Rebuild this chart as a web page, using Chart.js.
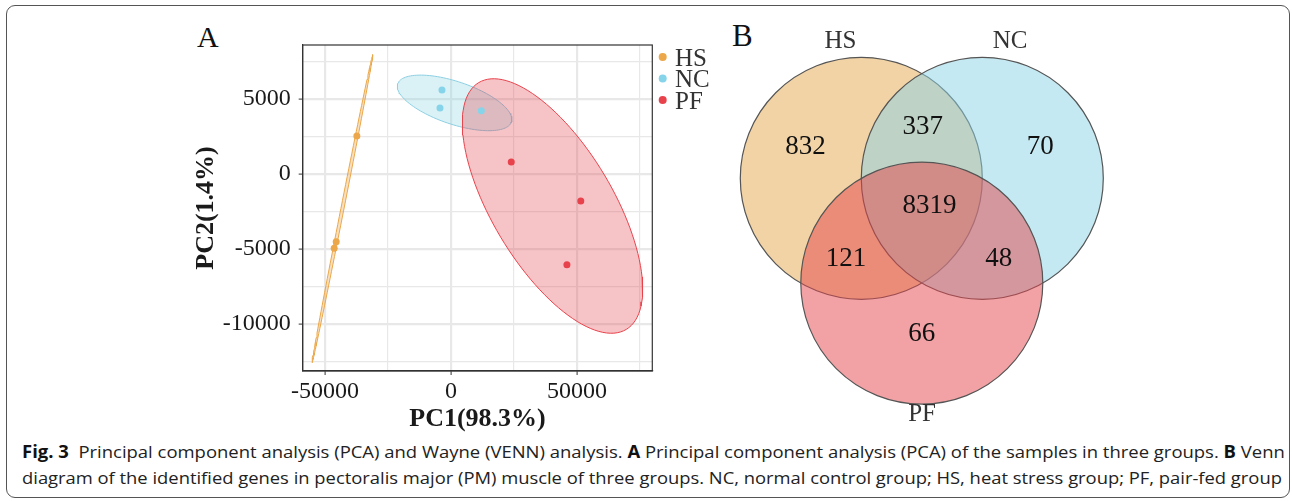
<!DOCTYPE html>
<html>
<head>
<meta charset="utf-8">
<script src="https://cdn.jsdelivr.net/npm/chart.js@4.4.1/dist/chart.umd.min.js"></script>
<style>
  html, body { margin: 0; padding: 0; background: #fff; }
  body { width: 1292px; height: 501px; position: relative; overflow: hidden; }
  .frame { position: absolute; left: 6px; top: 5px; width: 1284px; height: 493px;
           border: 1.3px solid #555; border-radius: 9px; box-sizing: border-box; }
  #pca { position: absolute; left: 190px; top: 20px; }
  #venn { position: absolute; left: 700px; top: 0px; }
  .panel-tag { position: absolute; font-family: 'Liberation Serif', serif; color: #111; line-height: 1; }
  .cap { position: absolute; left: 22px; white-space: nowrap; font-family: 'Open Sans', sans-serif;
         font-size: 17px; color: #222; transform-origin: 0 50%; line-height: 1; }
  .cap b { font-weight: 700; color: #111; }
</style>
</head>
<body>
<div class="frame"></div>
<div class="panel-tag" style="left:197px; top:22px; font-size:30px;">A</div>
<div class="panel-tag" style="left:732px; top:20px; font-size:31px;">B</div>
<canvas id="pca"></canvas>
<canvas id="venn"></canvas>
<div class="cap" id="cap1" style="top:443px;"><b>Fig. 3</b>&nbsp; Principal component analysis (PCA) and Wayne (VENN) analysis. <b>A</b> Principal component analysis (PCA) of the samples in three groups. <b>B</b> Venn</div>
<div class="cap" id="cap2" style="top:469px;">diagram of the identified genes in pectoralis major (PM) muscle of three groups. NC, normal control group; HS, heat stress group; PF, pair-fed group</div>
<script>
// PCA scores
const groups = ['HS', 'NC', 'PF'];
const hsPC1 = [-37400, -45600, -46400];
const hsPC2 = [2530, -4510, -4950];
const ncPC1 = [-3600, -4400, 12000];
const ncPC2 = [5600, 4400, 4220];
const pfPC1 = [23900, 51500, 46000];
const pfPC2 = [800, -1800, -6050];

// confidence ellipses: centre, semi-axis u, semi-axis v (data units)
const hsEllipse = [-43130, -2313, 12040, 10267, 600, -20];
const ncEllipse = [1400, 4740, 22580, -1273, -2700, -1347];
const pfEllipse = [40280, -2133, 29290, -8227, -20600, -2073];

const xTickValues = [-50000, -25000, 0, 25000, 50000, 75000];
const xTickLabels = ['-50000', '', '0', '', '50000', ''];
const yTickValues = [-12500, -10000, -7500, -5000, -2500, 0, 2500, 5000, 7500];
const yTickLabels = ['', '-10000', '', '-5000', '', '0', '', '5000', ''];

// Venn counts (panel B)
const vennSets = ['HS', 'NC', 'PF'];
const vennRegions = ['HS', 'HS&NC', 'NC', 'HS&NC&PF', 'HS&PF', 'NC&PF', 'PF'];
const vennCounts = [832, 337, 70, 8319, 121, 48, 66];

const colors = { HS: '#EBA74A', NC: '#86D4EA', PF: '#E8434C' };
const fills = { HS: 'rgba(235,167,74,0.35)', NC: 'rgba(132,208,222,0.3)', PF: 'rgba(225,55,68,0.3)' };
const lines = { HS: '#EBA74A', NC: '#8CCFE2', PF: '#E8434C' };
const serif = 'Liberation Serif';

function pts(xs, ys) { return xs.map((x, i) => ({ x: x, y: ys[i] })); }

function ellipse(e) {
  const out = [];
  for (let i = 0; i <= 120; i++) {
    const t = i / 120 * Math.PI * 2;
    out.push({ x: e[0] + e[2] * Math.cos(t) + e[4] * Math.sin(t),
               y: e[1] + e[3] * Math.cos(t) + e[5] * Math.sin(t) });
  }
  return out;
}

function ellipseSet(g, e, order) {
  return { type: 'line', data: ellipse(e), borderColor: lines[g], borderWidth: 1, backgroundColor: fills[g],
           fill: 'shape', pointRadius: 0, tension: 0, order: order, clip: false };
}
function pointSet(g, xs, ys) {
  return { type: 'scatter', label: g, data: pts(xs, ys), backgroundColor: colors[g], borderColor: colors[g],
           pointRadius: 3.5, borderWidth: 0, order: 0 };
}

const panelBorder = {
  id: 'panelBorder',
  afterDraw(chart) {
    const a = chart.chartArea, ctx = chart.ctx;
    ctx.save();
    ctx.strokeStyle = '#333'; ctx.lineWidth = 1.2;
    ctx.strokeRect(a.left, a.top, a.right - a.left, a.bottom - a.top);
    // legend
    ctx.font = '25px "' + serif + '"';
    ctx.textBaseline = 'middle';
    groups.forEach((g, i) => {
      const y = 37 + i * 21.5;
      ctx.fillStyle = colors[g];
      ctx.beginPath(); ctx.arc(472.7, y, 4, 0, Math.PI * 2); ctx.fill();
      ctx.fillStyle = '#333';
      ctx.fillText(g, 485, y + 2);
    });
    ctx.restore();
  }
};

function gridWidth(labels) {
  return ctx => (labels[ctx.index] ? 2.2 : 1.2);
}

const pcaCanvas = document.getElementById('pca');
pcaCanvas.width = 530; pcaCanvas.height = 420;
new Chart(pcaCanvas, {
  data: {
    datasets: [
      pointSet('HS', hsPC1, hsPC2),
      pointSet('NC', ncPC1, ncPC2),
      pointSet('PF', pfPC1, pfPC2),
      ellipseSet('PF', pfEllipse, 1),
      ellipseSet('NC', ncEllipse, 2),
      ellipseSet('HS', hsEllipse, 3)
    ]
  },
  options: {
    responsive: false,
    animation: false,
    events: [],
    devicePixelRatio: 1,
    layout: { padding: { left: 0, top: 25, right: 67.7, bottom: 0 } },
    plugins: { legend: { display: false }, tooltip: { enabled: false } },
    scales: {
      x: {
        type: 'linear', min: -58900, max: 79900,
        afterBuildTicks: s => { s.ticks = xTickValues.map(v => ({ value: v })); },
        afterFit: s => { s.height = 69; },
        ticks: { callback: (v, i) => xTickLabels[i], font: { family: serif, size: 24 }, color: '#1a1a1a',
                 padding: 2, maxRotation: 0, autoSkip: false },
        grid: { color: '#E8E8E8', lineWidth: gridWidth(xTickLabels), tickLength: 4,
                tickColor: c => (xTickLabels[c.index] ? '#333' : 'rgba(0,0,0,0)'), tickWidth: 1 },
        border: { display: true, color: '#333', width: 1.2 },
        title: { display: true, text: 'PC1(98.3%)', font: { family: serif, size: 26, weight: 'bold' },
                 color: '#1a1a1a', padding: { top: 0, bottom: 5 } }
      },
      y: {
        type: 'linear', min: -13133, max: 8600,
        afterBuildTicks: s => { s.ticks = yTickValues.map(v => ({ value: v })); },
        afterFit: s => { s.width = 112.7; },
        ticks: { callback: (v, i) => yTickLabels[i], font: { family: serif, size: 24 }, color: '#1a1a1a',
                 padding: 8, autoSkip: false },
        grid: { color: '#E8E8E8', lineWidth: gridWidth(yTickLabels), tickLength: 4,
                tickColor: c => (yTickLabels[c.index] ? '#333' : 'rgba(0,0,0,0)'), tickWidth: 1 },
        border: { display: true, color: '#333', width: 1.2 },
        title: { display: true, text: 'PC2(1.4%)', font: { family: serif, size: 26, weight: 'bold' },
                 color: '#1a1a1a', padding: { top: 1, bottom: 0 } }
      }
    }
  },
  plugins: [panelBorder]
});

// ---- Venn ----
const vennCentres = [[-0.5, 0], [0.5, 0], [0, -0.866]];
const vennFill = ['rgba(229,167,75,0.5)', 'rgba(139,211,229,0.5)', 'rgba(229,69,75,0.5)'];
const regionPos = [[-0.961, 0.267], [0.007, 0.43], [0.978, 0.267], [0.064, -0.217],
                   [-0.627, -0.659], [0.637, -0.659], [-0.001, -1.28]];
const setPos = [[-0.672, 1.143], [0.729, 1.143], [0.002, -1.94]];

const vennLabels = {
  id: 'vennLabels',
  afterDatasetsDraw(chart) {
    const ctx = chart.ctx, sx = chart.scales.x, sy = chart.scales.y;
    ctx.save();
    ctx.fillStyle = '#111';
    ctx.textAlign = 'center';
    ctx.textBaseline = 'middle';
    ctx.font = '27px "' + serif + '"';
    vennCounts.forEach((n, i) => {
      ctx.fillText(String(n), sx.getPixelForValue(regionPos[i][0]), sy.getPixelForValue(regionPos[i][1]) + 1);
    });
    ctx.font = '25px "' + serif + '"';
    ctx.fillStyle = '#333';
    vennSets.forEach((s, i) => {
      ctx.fillText(s, sx.getPixelForValue(setPos[i][0]), sy.getPixelForValue(setPos[i][1]) + 1);
    });
    ctx.restore();
  }
};

const vennCanvas = document.getElementById('venn');
vennCanvas.width = 430; vennCanvas.height = 440;
new Chart(vennCanvas, {
  type: 'scatter',
  data: {
    datasets: [{
      data: vennSets.map((s, i) => ({ x: vennCentres[i][0], y: vennCentres[i][1] })),
      backgroundColor: vennFill,
      borderColor: '#555',
      borderWidth: 1.2,
      pointRadius: c => {
        const s = c.chart.scales.x;
        return Math.abs(s.getPixelForValue(1) - s.getPixelForValue(0));
      },
      clip: false
    }]
  },
  options: {
    responsive: false,
    animation: false,
    events: [],
    devicePixelRatio: 1,
    layout: { padding: 0 },
    plugins: { legend: { display: false }, tooltip: { enabled: false } },
    scales: {
      x: { display: false, min: -1.833, max: 1.7207 },
      y: { display: false, min: -2.1628, max: 1.4736 }
    }
  },
  plugins: [vennLabels]
});

// fit caption lines to the printed width
[['cap1', 1263], ['cap2', 1260]].forEach(([id, w]) => {
  const el = document.getElementById(id);
  el.style.transform = 'scaleX(' + (w / el.scrollWidth) + ')';
});
</script>
</body>
</html>
